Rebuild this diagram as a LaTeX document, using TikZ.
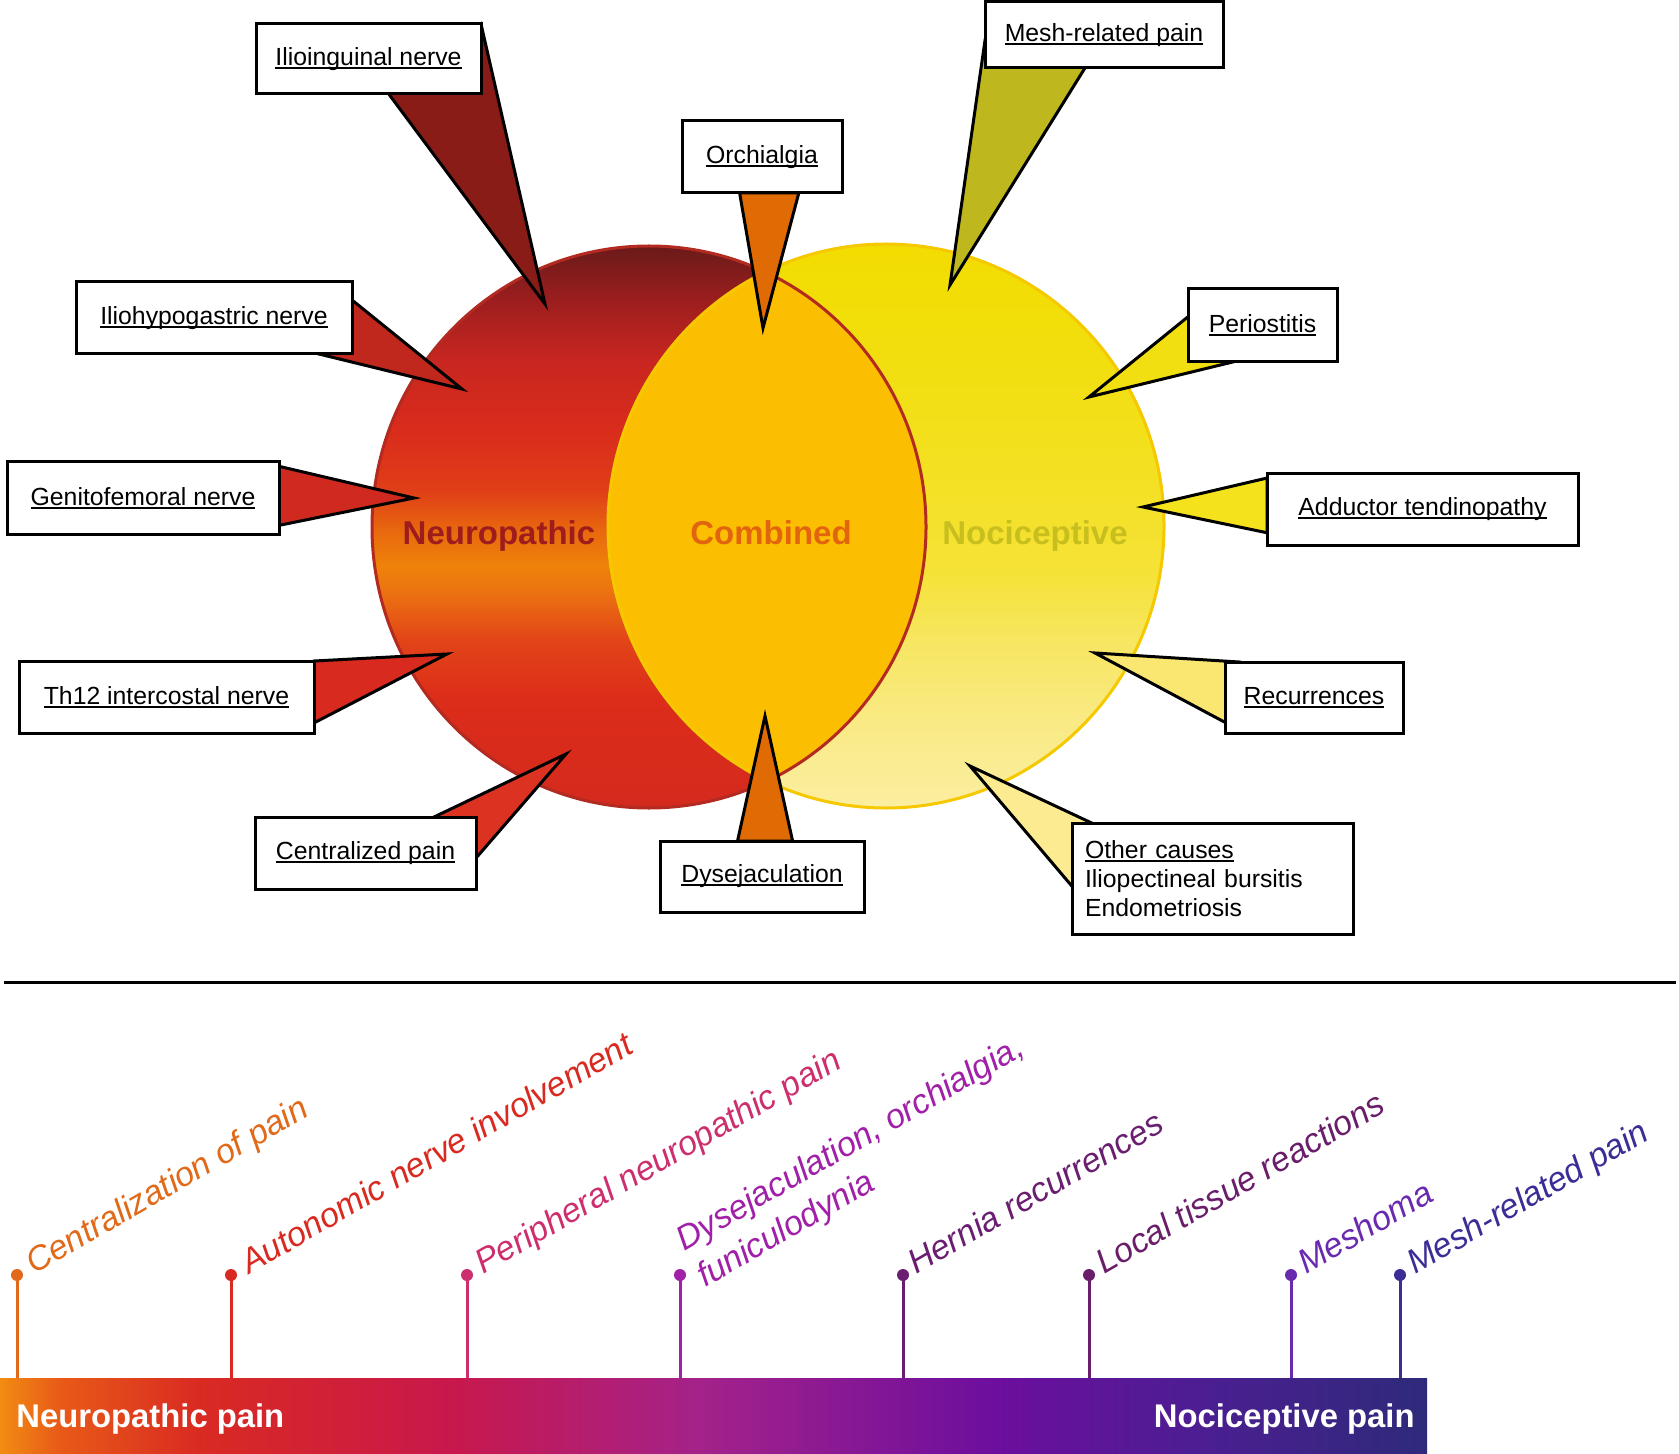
\documentclass[tikz,border=0pt]{standalone}
\usepackage{fontspec}
\setmainfont{Liberation Sans}
\usetikzlibrary{calc,positioning}

\definecolor{nr1}{HTML}{D42A1E}
\definecolor{nr2}{HTML}{DC2C1A}
\definecolor{nr3}{HTML}{E24418}
\definecolor{nr4}{HTML}{EC7410}
\definecolor{nr5}{HTML}{EE820A}
\definecolor{nr6}{HTML}{E8680E}
\definecolor{nr7}{HTML}{E03E18}
\definecolor{nr8}{HTML}{D92C1C}
\definecolor{nr9}{HTML}{C82620}
\definecolor{nr10}{HTML}{9C1E1E}
\definecolor{nr11}{HTML}{6A1A1A}
\definecolor{nc1}{HTML}{FBEEA0}
\definecolor{nc2}{HTML}{F9EA84}
\definecolor{nc3}{HTML}{F7E660}
\definecolor{nc4}{HTML}{F5E236}
\definecolor{nc5}{HTML}{F3E01E}
\definecolor{nc6}{HTML}{F2DE0A}
\definecolor{nc7}{HTML}{F2DC00}
\definecolor{lens}{HTML}{FBBE00}
\definecolor{neurorand}{HTML}{B22A20}
\definecolor{nocirand}{HTML}{F5C800}
\definecolor{neurotxt}{HTML}{9E1C1C}
\definecolor{combtxt}{HTML}{E2640E}
\definecolor{nocitxt}{HTML}{C8BE1E}
\definecolor{p1}{HTML}{8A1C18}
\definecolor{p2}{HTML}{C0281E}
\definecolor{p3}{HTML}{D02A20}
\definecolor{p4}{HTML}{D82A1E}
\definecolor{p5}{HTML}{DC3222}
\definecolor{p6}{HTML}{E06A04}
\definecolor{p8}{HTML}{BFB71E}
\definecolor{p9}{HTML}{F2DF12}
\definecolor{p10}{HTML}{F4E21C}
\definecolor{p11}{HTML}{FAE772}
\definecolor{p12}{HTML}{FCEB90}
\definecolor{b1}{HTML}{F28C12}
\definecolor{b2}{HTML}{E85A18}
\definecolor{b3}{HTML}{D92A22}
\definecolor{b4}{HTML}{C8184C}
\definecolor{b5}{HTML}{A4228A}
\definecolor{b6}{HTML}{6C0E9E}
\definecolor{b7}{HTML}{4C1E92}
\definecolor{b8}{HTML}{2E2A7A}
\definecolor{pc1}{HTML}{E06A1A}
\definecolor{pc2}{HTML}{D82A20}
\definecolor{pc3}{HTML}{CC2E6E}
\definecolor{pc4}{HTML}{A020A8}
\definecolor{pc5}{HTML}{6A1E70}
\definecolor{pc6}{HTML}{6A1E6A}
\definecolor{pc7}{HTML}{6A2AB0}
\definecolor{pc8}{HTML}{3A2E96}

\pgfdeclareverticalshading{neuroshade}{100bp}{color(0bp)=(nr1); color(25bp)=(nr1);
  color(34.6bp)=(nr2); color(39.9bp)=(nr3); color(44.4bp)=(nr4); color(46.6bp)=(nr5);
  color(49.7bp)=(nr6); color(53.3bp)=(nr7); color(58.6bp)=(nr8); color(64.9bp)=(nr9);
  color(70.2bp)=(nr10); color(75bp)=(nr11); color(100bp)=(nr11)}
\pgfdeclareverticalshading{nocishade}{100bp}{color(0bp)=(nc1); color(25bp)=(nc1);
  color(32.8bp)=(nc2); color(39.9bp)=(nc3); color(46.1bp)=(nc4); color(56.7bp)=(nc5);
  color(67.4bp)=(nc6); color(75bp)=(nc7); color(100bp)=(nc7)}
\pgfdeclarehorizontalshading{barshade}{100bp}{color(0bp)=(b1); color(25bp)=(b1);
  color(27.1bp)=(b2); color(32bp)=(b3); color(40.8bp)=(b4); color(49.5bp)=(b5);
  color(60bp)=(b6); color(67bp)=(b7); color(75bp)=(b8); color(100bp)=(b8)}

\pgfdeclarelayer{cirkel}
\pgfdeclarelayer{tunge}
\pgfsetlayers{cirkel,tunge,main}

\newsavebox\ulsave
\newcommand\ulin[1]{\sbox\ulsave{#1}\rlap{\rule[-0.13em]{\wd\ulsave}{0.07em}}\usebox\ulsave}

\tikzset{
    boks/.style={
           draw=black, line width=1.5pt,
           fill=white,
           outer sep=0pt, inner sep=0pt,
           align=center,
           font=\fontsize{12.4}{14.5}\selectfont},
    spids/.style={
           draw=black, line width=1.5pt},
    navn/.style={
           anchor=base,
           font=\fontsize{16.5}{18}\selectfont\bfseries},
    prik/.style={
           circle, inner sep=0pt,
           minimum size=6pt},
    pind/.style={
           line width=1.5pt},
    etiket/.style={
           anchor=base west, rotate=30,
           inner sep=0pt, align=left,
           font=\fontsize{17}{21}\selectfont\itshape}
}

\begin{document}
\begin{tikzpicture}[x=0.5pt, y=-0.5pt]
        \useasboundingbox (0,0) rectangle (1679,1454);

        % circles
        \begin{pgfonlayer}{cirkel}
        \shade[shading=neuroshade] (649,527) ellipse [x radius=138.5pt, y radius=140.5pt];
        \shade[shading=nocishade] (886,526) ellipse [x radius=139pt, y radius=141pt];
        \begin{scope}
            \clip (649,527) ellipse [x radius=138.5pt, y radius=140.5pt];
            \fill[lens] (886,526) ellipse [x radius=139pt, y radius=141pt];
        \end{scope}
        \draw[nocirand, line width=1.5pt] (886,526) ellipse [x radius=139pt, y radius=141pt];
        \draw[neurorand, line width=1.5pt] (649,527) ellipse [x radius=138.5pt, y radius=140.5pt];
        \end{pgfonlayer}

        \node[navn, text=neurotxt] (neuro) at (499,544) {Neuropathic};
        \node[navn, text=combtxt] (comb) at (771,544) {Combined};
        \node[navn, text=nocitxt] (noci) at (1035,544) {Nociceptive};

        \coordinate (t1) at (545,304);
        \coordinate (t2) at (462,389);
        \coordinate (t3) at (414,498);
        \coordinate (t4) at (447,654);
        \coordinate (t5) at (566,754);
        \coordinate (t6) at (763,328);
        \coordinate (t7) at (765,716);
        \coordinate (t8) at (950,285);
        \coordinate (t9) at (1089,397);
        \coordinate (t10) at (1143,507);
        \coordinate (t11) at (1095,653);
        \coordinate (t12) at (970,766);

        % callout boxes
        \node[boks, minimum width=112.5pt, minimum height=35pt] (ilio) at (368.5,59) {\ulin{Ilioinguinal nerve}};
        \node[boks, minimum width=138pt, minimum height=36pt] (hypo) at (214,318) {\ulin{Iliohypogastric nerve}};
        \node[boks, minimum width=136pt, minimum height=36pt] (geni) at (143,498) {\ulin{Genitofemoral nerve}};
        \node[boks, minimum width=147.5pt, minimum height=36pt] (th12) at (166.5,697) {\ulin{Th12 intercostal nerve}};
        \node[boks, minimum width=110.5pt, minimum height=36pt] (cent) at (365.5,853) {\ulin{Centralized pain}};
        \node[boks, minimum width=80pt, minimum height=36pt] (orch) at (762,157) {\ulin{Orchialgia}};
        \node[boks, minimum width=102pt, minimum height=35.5pt] (dys) at (762,876.5) {\ulin{Dysejaculation}};
        \node[boks, minimum width=119pt, minimum height=33pt] (mesh) at (1104,35) {\ulin{Mesh-related pain}};
        \node[boks, minimum width=74.5pt, minimum height=36.5pt] (peri) at (1262.5,325.5) {\ulin{Periostitis}};
        \node[boks, minimum width=155.5pt, minimum height=36pt] (addu) at (1422.5,509) {\ulin{Adductor tendinopathy}};
        \node[boks, minimum width=89pt, minimum height=35.5pt] (recu) at (1314,697.5) {\ulin{Recurrences}};
        \node[boks, inner xsep=6.5pt, text width=127.5pt, align=left, minimum height=55.5pt] (other) at (1212.5,878.5)
            {\ulin{Other causes}\\ Iliopectineal bursitis\\ Endometriosis};

        % pointers
        \begin{pgfonlayer}{tunge}
        \draw[spids, fill=p1] (ilio.north east) -- (t1) -- ($(ilio.south west)!0.59!(ilio.south east)$) -- cycle;
        \draw[spids, fill=p2] ($(hypo.north east)!0.25!(hypo.south east)$) -- (t2) -- ($(hypo.south west)!0.88!(hypo.south east)$) -- cycle;
        \draw[spids, fill=p3] ($(geni.north east)!0.06!(geni.south east)$) -- (t3) -- ($(geni.north east)!0.88!(geni.south east)$) -- cycle;
        \draw[spids, fill=p4] (th12.north east) -- (t4) -- ($(th12.north east)!0.86!(th12.south east)$) -- cycle;
        \draw[spids, fill=p5] ($(cent.north west)!0.81!(cent.north east)$) -- (t5) -- ($(cent.north east)!0.57!(cent.south east)$) -- cycle;
        \draw[spids, fill=p6] ($(orch.south west)!0.36!(orch.south east)$) -- (t6) -- ($(orch.south west)!0.73!(orch.south east)$) -- cycle;
        \draw[spids, fill=p6] ($(dys.north west)!0.38!(dys.north east)$) -- (t7) -- ($(dys.north west)!0.65!(dys.north east)$) -- cycle;
        \draw[spids, fill=p8] ($(mesh.north west)!0.58!(mesh.south west)$) -- (t8) -- ($(mesh.south west)!0.42!(mesh.south east)$) -- cycle;
        \draw[spids, fill=p9] ($(peri.north west)!0.38!(peri.south west)$) -- (t9) -- ($(peri.south west)!0.3!(peri.south east)$) -- cycle;
        \draw[spids, fill=p10] ($(addu.north west)!0.07!(addu.south west)$) -- (t10) -- ($(addu.north west)!0.83!(addu.south west)$) -- cycle;
        \draw[spids, fill=p11] ($(recu.north west)!0.08!(recu.north east)$) -- (t11) -- ($(recu.north west)!0.85!(recu.south west)$) -- cycle;
        \draw[spids, fill=p12] ($(other.north west)!0.07!(other.north east)$) -- (t12) -- ($(other.north west)!0.57!(other.south west)$) -- cycle;
        \end{pgfonlayer}

        % separator
        \coordinate (sepA) at (4,982);
        \coordinate (sepB) at (1676,982);
        \draw[line width=1.5pt] (sepA) -- (sepB);

        % scale bar
        \node[shade, shading=barshade, anchor=north west, inner sep=0pt, outer sep=0pt,
              minimum width=713.5pt, minimum height=38pt] (bar) at (0,1378) {};
        \node[anchor=base west, inner sep=0pt, text=white, font=\fontsize{16.4}{18}\selectfont\bfseries] (neupain) at (16,1427) {Neuropathic pain};
        \node[anchor=base east, inner sep=0pt, text=white, font=\fontsize{16.4}{18}\selectfont\bfseries] (nocipain) at (1415,1427) {Nociceptive pain};

        \node[prik, fill=pc1] (d1) at (17,1275) {};
        \node[prik, fill=pc2] (d2) at (231,1275) {};
        \node[prik, fill=pc3] (d3) at (467,1275) {};
        \node[prik, fill=pc4] (d4) at (680,1275) {};
        \node[prik, fill=pc5] (d5) at (903,1275) {};
        \node[prik, fill=pc6] (d6) at (1089,1275) {};
        \node[prik, fill=pc7] (d7) at (1291,1275) {};
        \node[prik, fill=pc8] (d8) at (1400,1275) {};

        \draw[pind, pc1] (d1.center) -- (d1.center |- bar.north);
        \draw[pind, pc2] (d2.center) -- (d2.center |- bar.north);
        \draw[pind, pc3] (d3.center) -- (d3.center |- bar.north);
        \draw[pind, pc4] (d4.center) -- (d4.center |- bar.north);
        \draw[pind, pc5] (d5.center) -- (d5.center |- bar.north);
        \draw[pind, pc6] (d6.center) -- (d6.center |- bar.north);
        \draw[pind, pc7] (d7.center) -- (d7.center |- bar.north);
        \draw[pind, pc8] (d8.center) -- (d8.center |- bar.north);

        \node[etiket, text=pc1] (l1) at ($(d1)+(17,0)$) {Centralization of pain};
        \node[etiket, text=pc2] (l2) at ($(d2)+(18,0)$) {Autonomic nerve involvement};
        \node[etiket, text=pc3] (l3) at ($(d3)+(16,0)$) {Peripheral neuropathic pain};
        \node[etiket, text=pc4] (l4) at ($(d4)+(25,13)$) {Dysejaculation, orchialgia,\\funiculodynia};
        \node[etiket, text=pc5] (l5) at ($(d5)+(13,0)$) {Hernia recurrences};
        \node[etiket, text=pc6] (l6) at ($(d6)+(15,0)$) {Local tissue reactions};
        \node[etiket, text=pc7] (l7) at ($(d7)+(15,0)$) {Meshoma};
        \node[etiket, text=pc8] (l8) at ($(d8)+(15,0)$) {Mesh-related pain};
\end{tikzpicture}
\end{document}
